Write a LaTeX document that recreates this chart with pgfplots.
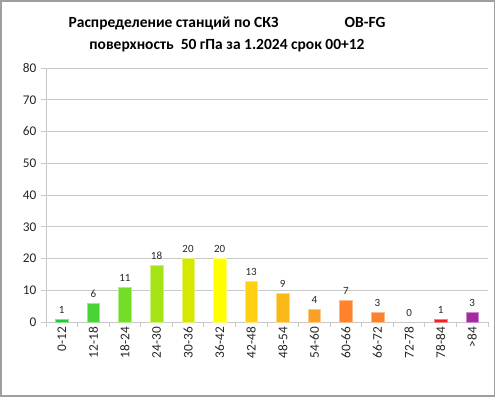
\documentclass[border=0pt]{standalone}
\usepackage{pgfplots}
\pgfplotsset{compat=1.18}
\usepackage{fontspec}
\setmainfont{Carlito}
\definecolor{c1}{RGB}{40,200,60}
\definecolor{c2}{RGB}{72,212,55}
\definecolor{c3}{RGB}{115,222,40}
\definecolor{c4}{RGB}{165,228,20}
\definecolor{c5}{RGB}{212,232,0}
\definecolor{c6}{RGB}{255,255,0}
\definecolor{c7}{RGB}{255,208,15}
\definecolor{c8}{RGB}{250,185,25}
\definecolor{c9}{RGB}{250,160,40}
\definecolor{c10}{RGB}{255,130,45}
\definecolor{c11}{RGB}{250,130,45}
\definecolor{c13}{RGB}{240,30,40}
\definecolor{c14}{RGB}{165,40,165}
\definecolor{gridc}{RGB}{200,200,200}
\begin{document}
\begin{tikzpicture}
\useasboundingbox (0pt,0pt) rectangle (496pt,399pt);
\draw[gray!75, line width=1.2pt] (1pt,3pt) rectangle (494.5pt,398pt);
\node[font=\fontsize{15.5}{22}\selectfont\bfseries, align=center] at (227pt,365pt)
  {Распределение станций по СКЗ\hspace{66pt}OB-FG\\ поверхность\ \ 50 гПа за 1.2024 срок\ 00+12};
\begin{axis}[
  at={(46pt,77pt)}, anchor=south west,
  scale only axis, width=442pt, height=254pt,
  xmin=-0.5, xmax=13.5, ymin=0, ymax=80,
  ytick={0,10,...,80},
  ymajorgrids, grid style={gridc, line width=0.8pt},
  axis lines*=left,
  axis line style={gridc, line width=0.8pt},
  tick align=outside,
  major tick length=5pt,
  tick style={gridc, line width=0.8pt},
  xtick={-0.5,0.5,...,13.5},
  xticklabels={},
  extra x ticks={0,1,...,13},
  extra x tick labels={0-12,12-18,18-24,24-30,30-36,36-42,42-48,48-54,54-60,60-66,66-72,72-78,78-84,{\textgreater}84},
  extra x tick style={major tick length=0pt, grid=none,
     xticklabel style={rotate=90, anchor=east, inner sep=1pt, xshift=-4pt}},
  ticklabel style={font=\fontsize{13.3}{15}\selectfont, text=black!85},
  /pgf/number format/assume math mode=true,
  yticklabel style={xshift=-1pt},
  every axis plot/.append style={ybar, bar width=12.5pt, bar shift=0pt},
  nodes near coords,
  every node near coord/.append style={font=\fontsize{11}{13}\selectfont, text=black!85, yshift=2pt},
  clip=false,
]
\addplot[fill=c1, draw=c1!55!white] coordinates {(0,1)};
\addplot[fill=c2, draw=c2!55!white] coordinates {(1,6)};
\addplot[fill=c3, draw=c3!55!white] coordinates {(2,11)};
\addplot[fill=c4, draw=c4!55!white] coordinates {(3,18)};
\addplot[fill=c5, draw=c5!55!white] coordinates {(4,20)};
\addplot[fill=c6, draw=c6!55!white] coordinates {(5,20)};
\addplot[fill=c7, draw=c7!55!white] coordinates {(6,13)};
\addplot[fill=c8, draw=c8!55!white] coordinates {(7,9)};
\addplot[fill=c9, draw=c9!55!white] coordinates {(8,4)};
\addplot[fill=c10, draw=c10!55!white] coordinates {(9,7)};
\addplot[fill=c11, draw=c11!55!white] coordinates {(10,3)};
\addplot[fill=none, draw=none] coordinates {(11,0)};
\addplot[fill=c13, draw=c13!55!white] coordinates {(12,1)};
\addplot[fill=c14, draw=c14!55!white] coordinates {(13,3)};
\end{axis}
\end{tikzpicture}
\end{document}
